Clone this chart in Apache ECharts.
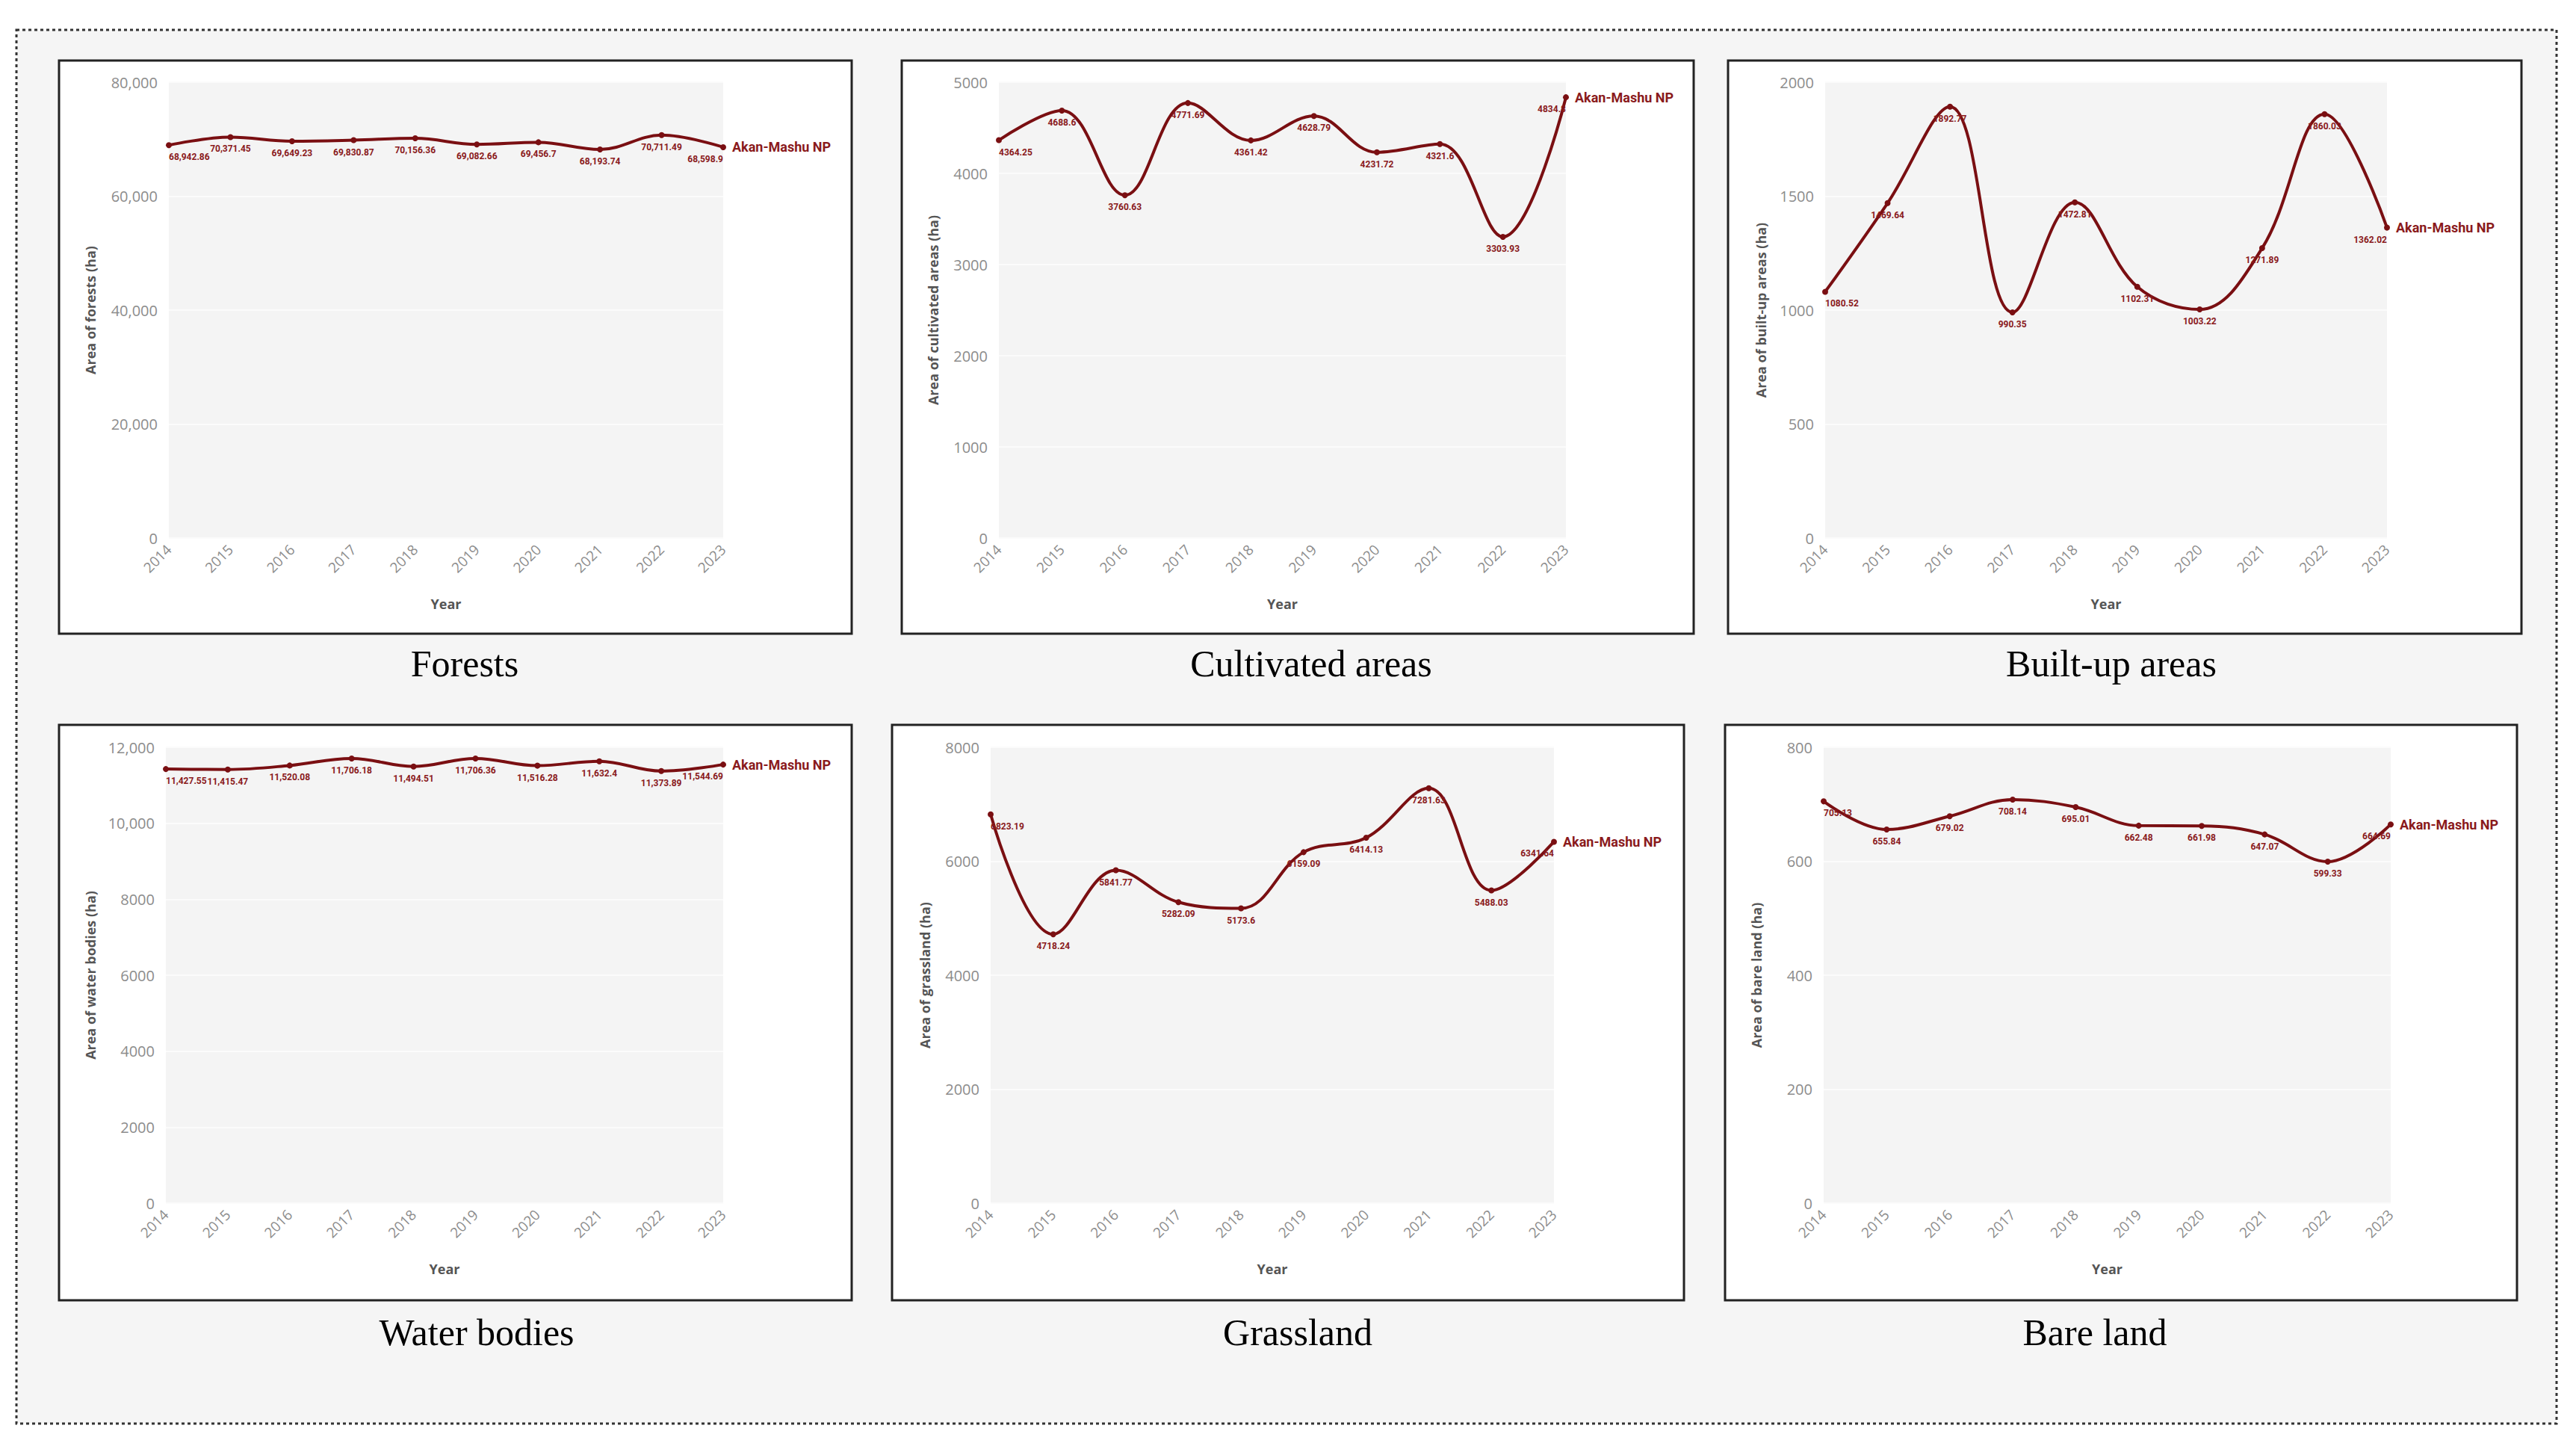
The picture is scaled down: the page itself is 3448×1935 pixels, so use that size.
<!DOCTYPE html>
<html><head><meta charset="utf-8">
<script src="https://cdn.jsdelivr.net/npm/echarts@6/dist/echarts.min.js"></script>
<style>html,body{margin:0;padding:0;background:#fff;}#c{width:3448px;height:1935px;}</style>
</head><body><div id="c"></div>
<script>
// ---- data ----
const years = ['2014','2015','2016','2017','2018','2019','2020','2021','2022','2023'];
const forests    = [68942.86, 70371.45, 69649.23, 69830.87, 70156.36, 69082.66, 69456.7, 68193.74, 70711.49, 68598.9];
const cultivated = [4364.25, 4688.6, 3760.63, 4771.69, 4361.42, 4628.79, 4231.72, 4321.6, 3303.93, 4834.8];
const builtUp    = [1080.52, 1469.64, 1892.77, 990.35, 1472.81, 1102.31, 1003.22, 1271.89, 1860.03, 1362.02];
const water      = [11427.55, 11415.47, 11520.08, 11706.18, 11494.51, 11706.36, 11516.28, 11632.4, 11373.89, 11544.69];
const grassland  = [6823.19, 4718.24, 5841.77, 5282.09, 5173.6, 6159.09, 6414.13, 7281.63, 5488.03, 6341.64];
const bareLand   = [705.13, 655.84, 679.02, 708.14, 695.01, 662.48, 661.98, 647.07, 599.33, 664.69];
const seriesName = 'Akan-Mashu NP';
const panelTitles = ['Forests','Cultivated areas','Built-up areas','Water bodies','Grassland','Bare land'];
const yAxisNames = ['Area of forests (ha)','Area of cultivated areas (ha)','Area of built-up areas (ha)','Area of water bodies (ha)','Area of grassland (ha)','Area of bare land (ha)'];
const yMax  = [80000, 5000, 2000, 12000, 8000, 800];
const yStep = [20000, 1000, 500, 2000, 2000, 200];
const allSeries = [forests, cultivated, builtUp, water, grassland, bareLand];

// ---- layout ----
const layout = [
  {box:[79,81,1140,848],   grid:[226,110,968,720],   gap:96, tx:622,  ty:888},
  {box:[1207,81,2267,848], grid:[1337,110,2096,720], gap:79, tx:1755, ty:888},
  {box:[2313,81,3375,848], grid:[2443,110,3195,720], gap:77, tx:2826, ty:888},
  {box:[79,970,1140,1740], grid:[222,1000,968,1610], gap:92, tx:638,  ty:1783},
  {box:[1194,970,2254,1740],grid:[1326,1000,2080,1610],gap:79, tx:1737, ty:1783},
  {box:[2309,970,3369,1740],grid:[2441,1000,3200,1610],gap:81, tx:2804, ty:1783}
];
const RED = '#7a0f12', LRED = '#8a1a1c';
const fmt = v => v >= 10000 ? v.toLocaleString('en-US', {maximumFractionDigits: 2}) : String(v);

const graphic = [
  {type:'rect', z:-10, shape:{x:22,y:40,width:3400,height:1865},
   style:{fill:'#f5f5f5', stroke:'#333', lineWidth:3, lineDash:[4,4]}}
];
const grids = [], xAxes = [], yAxes = [], series = [];
layout.forEach((L, i) => {
  const [bx0,by0,bx1,by1] = L.box;
  graphic.push({type:'rect', z:-9, shape:{x:bx0,y:by0,width:bx1-bx0,height:by1-by0},
    style:{fill:'#ffffff', stroke:'#222', lineWidth:3}});
  graphic.push({type:'text', z:5, x:L.tx, y:L.ty,
    style:{text:panelTitles[i], fill:'#000', font:'50px "Liberation Serif", "Times New Roman", serif',
      textAlign:'center', textVerticalAlign:'middle'}});
  const [gx0,gy0,gx1,gy1] = L.grid;
  grids.push({left:gx0, top:gy0, width:gx1-gx0, height:gy1-gy0, show:true,
    backgroundColor:'#f4f4f4', borderWidth:0, containLabel:false});
  xAxes.push({type:'category', gridIndex:i, data:years, boundaryGap:false,
    axisLine:{show:false}, axisTick:{show:false}, splitLine:{show:false},
    axisLabel:{rotate:45, fontSize:19, color:'#8c8c8c', margin:12, fontFamily:'"Open Sans", sans-serif', interval:0},
    name:'Year', nameLocation:'middle', nameGap:79,
    nameTextStyle:{fontSize:18, fontWeight:'bold', color:'#555', fontFamily:'"Open Sans", sans-serif'}});
  yAxes.push({type:'value', gridIndex:i, min:0, max:yMax[i], interval:yStep[i],
    axisLine:{show:false}, axisTick:{show:false},
    splitLine:{show:true, lineStyle:{color:'#fbfbfb', width:2}},
    axisLabel:{fontSize:20, color:'#8c8c8c', margin:15, formatter:fmt, fontFamily:'"Open Sans", sans-serif'},
    name:yAxisNames[i], nameLocation:'middle', nameGap:L.gap,
    nameTextStyle:{fontSize:18, fontWeight:'bold', color:'#555', fontFamily:'"Open Sans", sans-serif'}});
  const vals = allSeries[i];
  series.push({type:'line', name:seriesName, xAxisIndex:i, yAxisIndex:i, smooth:0.38,
    symbol:'circle', symbolSize:8, showAllSymbol:true,
    lineStyle:{color:RED, width:4}, itemStyle:{color:RED},
    data: vals.map((v, k) => {
      if (k === 0) return {value:v, label:{align:'left'}};
      if (k === vals.length - 1) return {value:v, label:{align:'right'}};
      return v;
    }),
    label:{show:true, position:'bottom', distance:6, fontSize:12, fontWeight:'bold', color:LRED,
      fontFamily:'"Liberation Sans Narrow", "Roboto", sans-serif',
      formatter: p => fmt(p.value)},
    endLabel:{show:true, formatter:seriesName, fontSize:18, fontWeight:'bold', color:LRED, distance:12,
      fontFamily:'"Liberation Sans Narrow", "Roboto", sans-serif'},
    labelLayout:{hideOverlap:false}
  });
});

const chart = echarts.init(document.getElementById('c'), null, {renderer:'svg', width:3448, height:1935});
chart.setOption({backgroundColor:'#ffffff', animation:false, graphic, grid:grids, xAxis:xAxes, yAxis:yAxes, series});
</script></body></html>
